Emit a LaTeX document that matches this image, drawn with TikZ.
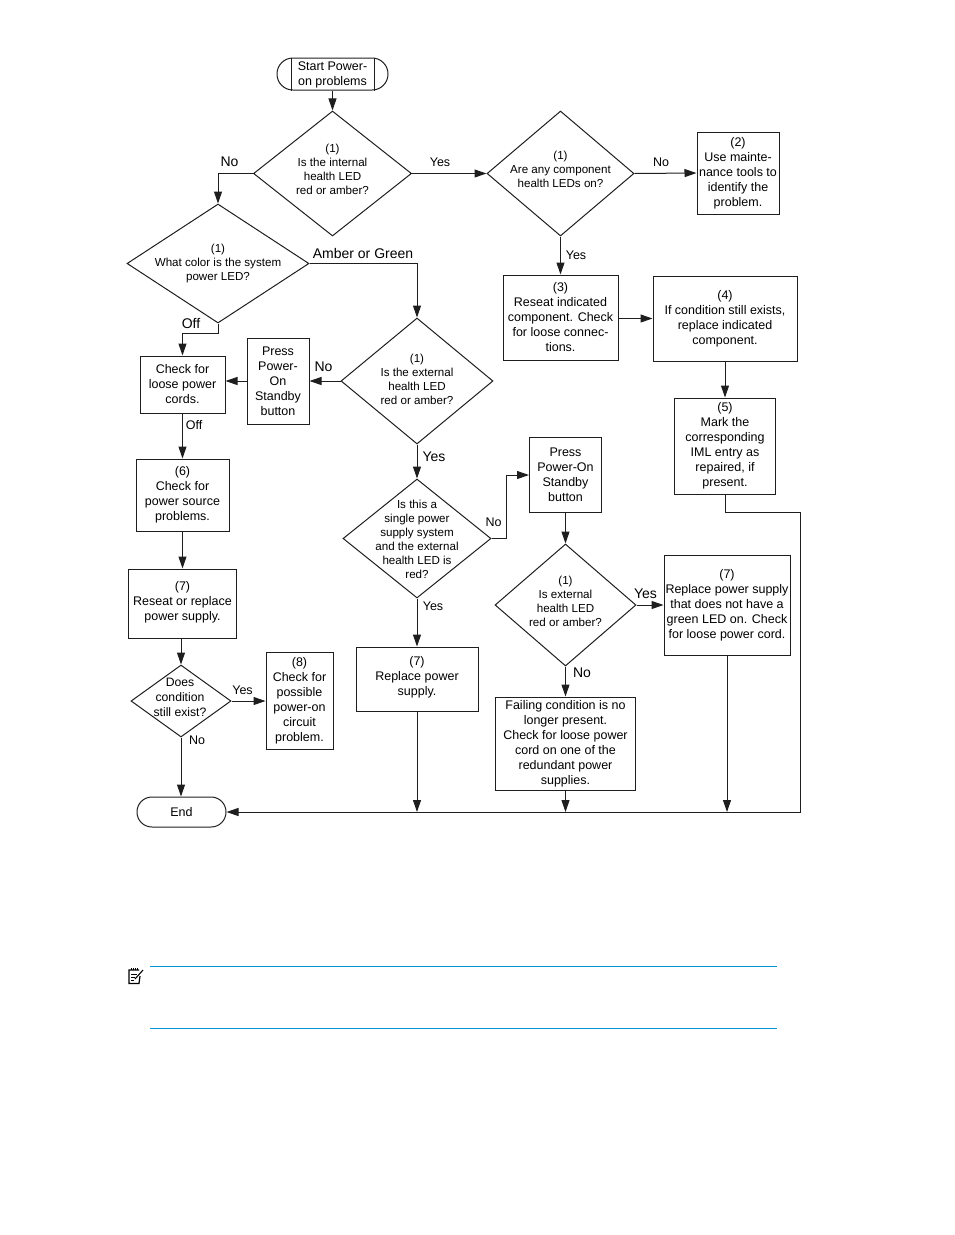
\documentclass[tikz,border=0pt]{standalone}
\usepackage{fontspec}
\setmainfont{Liberation Sans}
\usetikzlibrary{arrows.meta, shapes.geometric}
\definecolor{noteblue}{RGB}{0,150,214}
\definecolor{inkline}{RGB}{30,30,30}
\newcommand{\dtext}[2][-3.5pt]{\smash{\makebox[0pt]{\raisebox{#1}{\begin{tabular}{@{}c@{}}#2\end{tabular}}}}}
\tikzset{
  boxnode/.style={draw=inkline, line width=1pt, rectangle, inner sep=0pt, align=center, font=\fontsize{12.5}{15}\selectfont},
  decision/.style={draw=inkline, line width=1pt, diamond, inner sep=0pt, font=\fontsize{11.6}{14}\selectfont},
  flow/.style={draw=inkline, line width=1pt, -{Triangle[length=12pt,width=8pt]}},
  plainline/.style={draw=inkline, line width=1pt},
  smalllbl/.style={inner sep=0pt, font=\fontsize{12.5}{14}\selectfont},
  biglbl/.style={inner sep=0pt, font=\fontsize{14}{16}\selectfont}
}
\begin{document}
\begin{tikzpicture}[x=1pt, y=-1pt]
  \useasboundingbox (0,0) rectangle (954,1235);
  % top of the chart
  \node[boxnode, rounded corners=15.9pt, minimum width=111pt, minimum height=32pt] (start) at (332.5,74) {\dtext[-3.5pt]{Start Power-\\on problems}};
  \draw[plainline] ([xshift=-41.5pt]start.north) -- ([xshift=-41.5pt]start.south);
  \draw[plainline] ([xshift=41.5pt]start.north) -- ([xshift=41.5pt]start.south);
  \node[decision, minimum width=158pt, minimum height=125pt] (intled) at (332.5,173.5) {\dtext[-0.5pt]{(1)\\Is the internal\\health LED\\red or amber?}};
  \node[decision, minimum width=147pt, minimum height=125pt] (compled) at (560.5,173.5) {\dtext[-0.5pt]{(1)\\Are any component\\health LEDs on?}};
  \node[boxnode, minimum width=82pt, minimum height=82pt] (tools) at (738,173) {(2)\\Use mainte-\\nance tools to\\identify the\\problem.};
  \node[decision, minimum width=182pt, minimum height=119pt] (sysled) at (218,263.5) {\dtext[-3pt]{(1)\\What color is the system\\power LED?}};
  \node[boxnode, minimum width=115pt, minimum height=85pt] (reseatcomp) at (560.5,317.5) {(3)\\Reseat indicated\\component. Check\\for loose connec-\\tions.};
  \node[boxnode, minimum width=144pt, minimum height=85pt] (replacecomp) at (725,318.5) {(4)\\If condition still exists,\\replace indicated\\component.};
  \node[boxnode, minimum width=101pt, minimum height=96pt] (markiml) at (725,446) {(5)\\Mark the\\corresponding\\IML entry as\\repaired, if\\present.};
  % middle row
  \node[decision, minimum width=152pt, minimum height=126pt] (extled) at (417,381) {\dtext[-2.5pt]{(1)\\Is the external\\health LED\\red or amber?}};
  \node[boxnode, minimum width=62pt, minimum height=86pt] (pressa) at (278,381) {Press\\Power-\\On\\Standby\\button};
  \node[boxnode, minimum width=85pt, minimum height=57pt] (cords) at (182.5,384.5) {Check for\\loose power\\cords.};
  \node[boxnode, minimum width=93pt, minimum height=72pt] (source) at (182.5,495) {(6)\\Check for\\power source\\problems.};
  \node[boxnode, minimum width=108pt, minimum height=69pt] (reseatps) at (182.5,603.5) {\dtext[-1.5pt]{(7)\\Reseat or replace\\power supply.}};
  \node[decision, minimum width=100pt, minimum height=72pt, font=\fontsize{12.2}{15}\selectfont] (exist) at (181,701) {\hspace*{-2pt}\dtext[-0.5pt]{Does\\condition\\still exist?}};
  \node[boxnode, minimum width=67pt, minimum height=97pt] (circuit) at (299.5,700.5) {(8)\\Check for\\possible\\power-on\\circuit\\problem.};
  \node[boxnode, rounded corners=14.9pt, minimum width=89pt, minimum height=30pt] (end) at (181.5,812) {End};
  % redundant supply branch
  \node[decision, minimum width=148pt, minimum height=119pt] (single) at (417,538.5) {\dtext[-5pt]{Is this a\\single power\\supply system\\and the external\\health LED is\\red?}};
  \node[boxnode, minimum width=122pt, minimum height=64pt] (replaceps) at (417,679) {\dtext[-1.5pt]{(7)\\Replace power\\supply.}};
  \node[boxnode, minimum width=72pt, minimum height=75pt] (pressb) at (565.5,475) {Press\\Power-On\\Standby\\button};
  \node[decision, minimum width=141pt, minimum height=122pt] (extledb) at (565.5,605) {\dtext[-0.5pt]{(1)\\Is external\\health LED\\red or amber?}};
  \node[boxnode, minimum width=126pt, minimum height=100pt] (greenled) at (727,605) {(7)\\Replace power supply\\that does not have a\\green LED on. Check\\for loose power cord.};
  \node[boxnode, minimum width=140pt, minimum height=93pt] (failing) at (565.5,743.5) {Failing condition is no\\longer present.\\Check for loose power\\cord on one of the\\redundant power\\supplies.};
  % connectors
  \coordinate (railtop) at (800,512);
  \coordinate (railbot) at (800,812);
  \draw[flow] (start) -- (intled);
  \draw[flow] (intled.west) -| (sysled.north);
  \draw[flow] (intled.east) -- (compled.west);
  \draw[flow] (compled.east) -- (tools.west);
  \draw[flow] (compled.south) -- (reseatcomp.north);
  \draw[flow] (reseatcomp.east |- replacecomp.west) -- (replacecomp.west);
  \draw[flow] (replacecomp.south) -- (markiml.north);
  \draw[flow] (sysled.east) -| (extled.north);
  \draw[flow] (sysled.south) -- ++(0,10) -| (cords.north);
  \draw[flow] (extled.west) -- (pressa.east);
  \draw[flow] (pressa.west) -- (pressa.west -| cords.east);
  \draw[flow] (cords.south) -- (source.north);
  \draw[flow] (source.south) -- (reseatps.north);
  \draw[flow] (reseatps.south -| exist.north) -- (exist.north);
  \draw[flow] (exist.east) -- (exist.east -| circuit.west);
  \draw[flow] (exist.south) -- (exist.south |- end.north);
  \draw[flow] (extled.south) -- (single.north);
  \draw[flow] (single.east) -- ++(14.5,0) |- (pressb.west);
  \draw[flow] (single.south) -- (replaceps.north);
  \draw[flow] (pressb.south) -- (extledb.north);
  \draw[flow] (extledb.east) -- (greenled.west);
  \draw[flow] (extledb.south) -- (failing.north);
  \draw[flow] (replaceps.south) -- (replaceps.south |- end.east);
  \draw[flow] (failing.south) -- (failing.south |- end.east);
  \draw[flow] (greenled.south) -- (greenled.south |- end.east);
  \draw[flow] (markiml.south) |- (railtop) -- (railbot) -- (end.east);
  % branch labels
  \node[biglbl] (lblintno) at (229.5,162) {No};
  \node[smalllbl] (lblintyes) at (440,162) {Yes};
  \node[smalllbl] (lblcompno) at (661,162) {No};
  \node[smalllbl] (lblcompyes) at (576,255) {Yes};
  \node[biglbl] (lblamber) at (363,253) {Amber or Green};
  \node[biglbl] (lbloffa) at (191,323) {Off};
  \node[biglbl] (lblextno) at (323.5,367) {No};
  \node[smalllbl] (lbloffb) at (194,425) {Off};
  \node[biglbl] (lblextyes) at (434,457) {Yes};
  \node[smalllbl] (lblsingleno) at (493.5,522.5) {No};
  \node[smalllbl] (lblsingleyes) at (433,606) {Yes};
  \node[biglbl] (lblbyes) at (645.5,593.5) {Yes};
  \node[biglbl] (lblbno) at (582,673) {No};
  \node[smalllbl] (lblexistyes) at (242.5,690) {Yes};
  \node[smalllbl] (lblexistno) at (197,740) {No};
  % note rules and icon
  \draw[noteblue, line width=1pt] (150,966.5) -- (777,966.5);
  \draw[noteblue, line width=1pt] (150,1028.5) -- (777,1028.5);
  \draw[black, line width=1.2pt] (139,970) -- (129,970) -- (129,983.5) -- (139,983.5) -- (140,976);
  \draw[black, line width=0.7pt] (131,968) -- (131,970) (133,968) -- (133,970) (135,968) -- (135,970) (137,968) -- (137,970);
  \draw[black, line width=0.7pt] (131,974) -- (137,974) (131,977) -- (135,977) (131,980) -- (134,980);
  \draw[black, line width=1.1pt] (135,979) -- (143,970);
\end{tikzpicture}
\end{document}
